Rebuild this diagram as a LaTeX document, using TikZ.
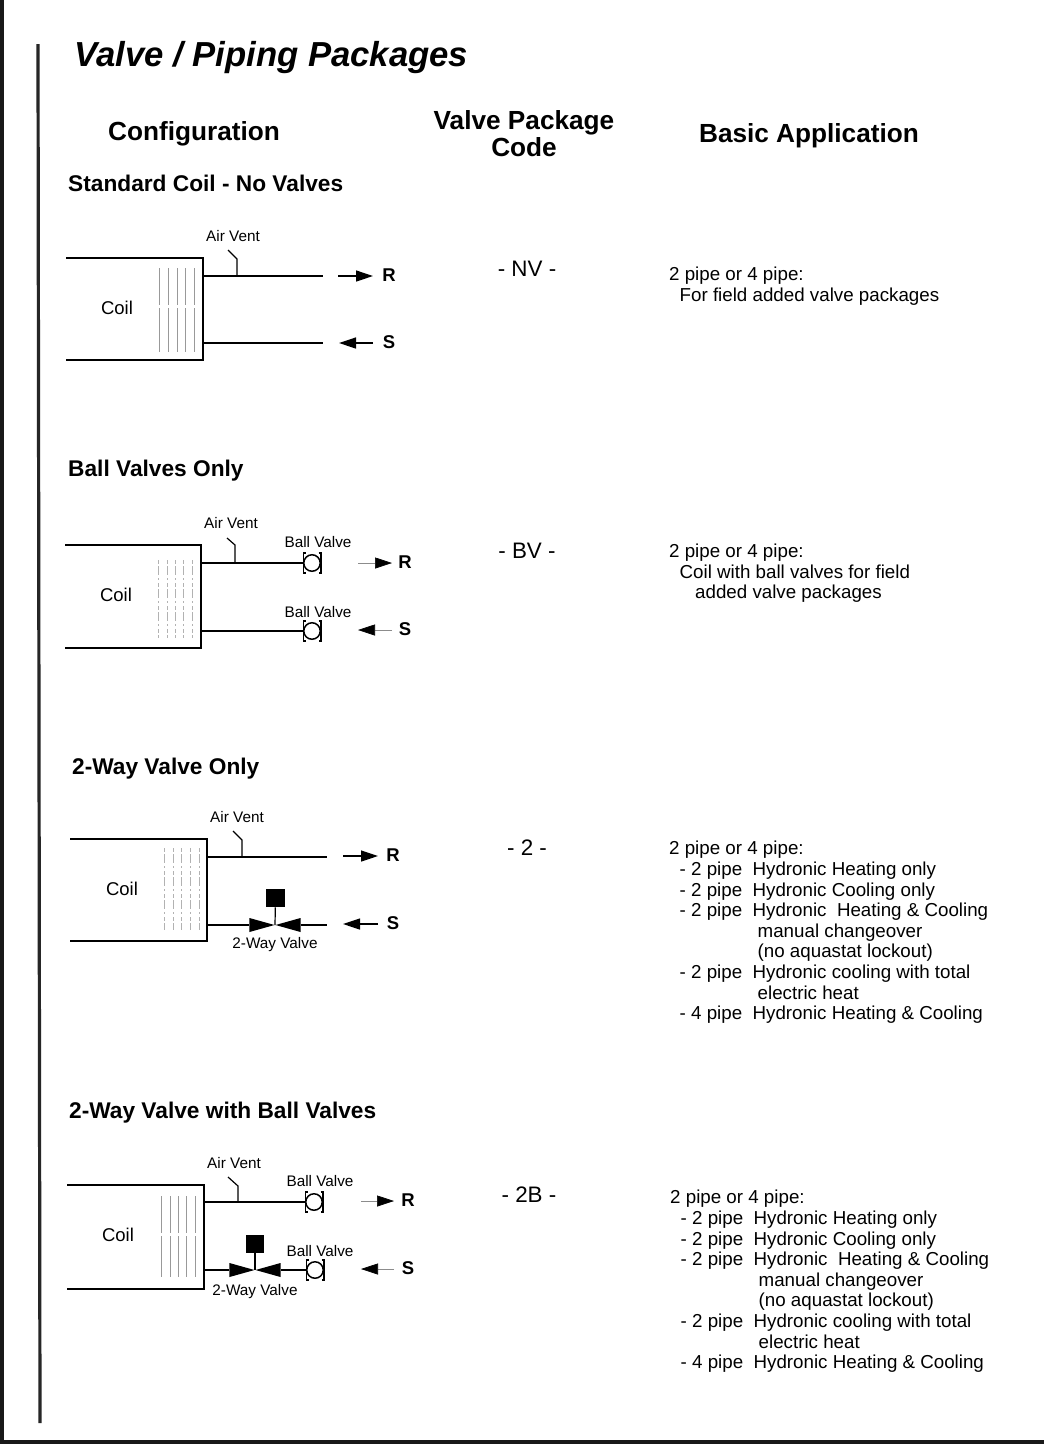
\documentclass[tikz,border=0pt]{standalone}
\usepackage{fontspec}
\setmainfont{Liberation Sans}
\usetikzlibrary{
  arrows.meta,
  shapes.geometric
}
\tikzset{
  titletxt/.style={anchor=west, inner sep=0pt, font=\fontsize{34.7}{40}\selectfont\bfseries\itshape},
  headtxt/.style={align=center, inner sep=0pt, font=\fontsize{26.2}{27}\selectfont\bfseries},
  secttxt/.style={anchor=west, inner sep=0pt, font=\fontsize{22.7}{26}\selectfont\bfseries},
  codetxt/.style={inner sep=0pt, font=\fontsize{22.4}{24}\selectfont},
  apptxt/.style={anchor=north west, align=left, inner sep=0pt, font=\fontsize{18.75}{20.6}\selectfont},
  coiltxt/.style={inner sep=0pt, font=\fontsize{18.5}{20}\selectfont},
  smalltxt/.style={inner sep=0pt, font=\fontsize{15.3}{16}\selectfont},
  endtxt/.style={inner sep=0pt, font=\fontsize{18.5}{20}\selectfont\bfseries},
  coilbody/.style={line width=1.6pt},
  pipe/.style={line width=1.7pt},
  vent/.style={line width=1.2pt},
  flowarr/.style={line width=1.3pt, -{Triangle[length=17pt, width=11pt, black]}},
  fadearr/.style={flowarr, line width=0.6pt, draw=black!45},
  hatch/.style={draw=black!40, line width=0.7pt, dash pattern=on 37pt off 3pt on 44pt off 2pt},
  hatchdot/.style={draw=black!30, line width=0.7pt, dash pattern=on 4pt off 2pt on 9pt off 3pt on 2pt off 3pt},
  ballv/.style={draw, circle, line width=1.5pt, minimum size=16.5pt, inner sep=0pt},
  flange/.style={line width=1.6pt},
  valvetri/.style={isosceles triangle, isosceles triangle stretches, fill=black,
    minimum height=25pt, minimum width=14pt, inner sep=0pt},
  actuator/.style={fill=black, minimum size=18.5pt, inner sep=0pt},
}
\newcommand{\ballvalve}[2]{
  \node[ballv] (#1) at (#2) {};
  \draw[flange] ([shift={(-6.5,-10)}]#1.center) -- ++(-2.2,0) -- ++(0,20) -- ++(2.2,0);
  \draw[flange] ([shift={(6.5,-10)}]#1.center) -- ++(2.2,0) -- ++(0,20) -- ++(-2.2,0);
}
\begin{document}
\begin{tikzpicture}[x=1pt, y=-1pt]
  \useasboundingbox (0,0) rectangle (1044,1444);
  \fill[white] (0,0) rectangle (1044,1444);

  % Page edges
  \fill[black!90] (0,0) rectangle (4,1444);
  \fill[black!90] (0,1440) rectangle (1044,1444);
  \draw[black!85, line width=3.2pt] (38,44) -- (40,1423);

  % Headings
  \node[titletxt] (title) at (74,58) {Valve / Piping Packages};
  \node[headtxt] (hconfig) at (194,134) {Configuration};
  \node[headtxt] (hcode) at (524,134) {Valve Package\\Code};
  \node[headtxt] (happ) at (809,136) {Basic Application};

  % Standard coil
  \node[secttxt] (sect1) at (68,183) {Standard Coil - No Valves};
  \node[coiltxt] (coil1) at (117,308) {Coil};
  \draw[coilbody] (66,258) coordinate (c1a) -- (203,258) -- (203,360) -- (66,360) coordinate (c1b);
  \foreach \xx in {159,168,177,185,194}
    \draw[hatch] (\xx,268) -- (\xx,352);
  \coordinate (r1in) at (203,276);
  \coordinate (r1out) at (323,276);
  \coordinate (s1in) at (203,343);
  \coordinate (s1out) at (323,343);
  \draw[pipe] (r1in) -- (r1out);
  \draw[pipe] (s1in) -- (s1out);
  \coordinate (v1) at (237,276);
  \draw[vent] (v1) -- (237,259) -- (228,250);
  \node[smalltxt] (av1) at (233,236) {Air Vent};
  \node[endtxt] (r1) at (389,275) {R};
  \node[endtxt] (s1) at (389,342) {S};
  \draw[flowarr] (338,276) -- (373,276);
  \draw[flowarr] (373,343) -- (339,343);
  \node[codetxt] (code1) at (527,269) {- NV -};
  \node[apptxt] (app1) at (669,267) {2 pipe or 4 pipe:\\
    \hspace*{10.5pt}For field added valve packages};

  % Ball valves
  \node[secttxt] (sect2) at (68,471) {Ball Valves Only};
  \node[coiltxt] (coil2) at (116,595) {Coil};
  \draw[coilbody] (65,545) coordinate (c2a) -- (201,545) -- (201,648) -- (65,648) coordinate (c2b);
  \foreach \xx in {158,167,175,183,192}
    \draw[hatchdot] (\xx,560) -- (\xx,638);
  \ballvalve{bv2a}{312,563}
  \ballvalve{bv2b}{312,631}
  \coordinate (r2in) at (201,563);
  \coordinate (s2in) at (201,631);
  \draw[pipe] (r2in) -- (bv2a);
  \draw[pipe] (s2in) -- (bv2b);
  \coordinate (v2) at (235,563);
  \draw[vent] (v2) -- (235,545) -- (227,538);
  \node[smalltxt] (av2) at (231,523) {Air Vent};
  \node[smalltxt] (bl2a) at (318,542) {Ball Valve};
  \node[smalltxt] (bl2b) at (318,612) {Ball Valve};
  \node[endtxt] (r2) at (405,562) {R};
  \node[endtxt] (s2) at (405,629) {S};
  \draw[fadearr] (358,563) -- (392,563);
  \draw[fadearr] (392,630) -- (358,630);
  \node[codetxt] (code2) at (527,551) {- BV -};
  \node[apptxt] (app2) at (669,544) {2 pipe or 4 pipe:\\
    \hspace*{10.5pt}Coil with ball valves for field\\
    \hspace*{26pt}added valve packages};

  % 2-way valve
  \node[secttxt] (sect3) at (72,769) {2-Way Valve Only};
  \node[coiltxt] (coil3) at (122,889) {Coil};
  \draw[coilbody] (70,839) coordinate (c3a) -- (207,839) -- (207,941) -- (70,941) coordinate (c3b);
  \foreach \xx in {164,173,181,190,199}
    \draw[hatchdot] (\xx,848) -- (\xx,930);
  \coordinate (r3in) at (207,857);
  \coordinate (r3out) at (327,857);
  \coordinate (s3in) at (207,925);
  \coordinate (s3out) at (327,925);
  \node[valvetri, anchor=apex] (tw3a) at (275,925) {};
  \node[valvetri, anchor=apex, shape border rotate=180] (tw3b) at (275,925) {};
  \node[actuator] (act3) at (275.5,898) {};
  \draw[pipe] (r3in) -- (r3out);
  \draw[pipe] (s3in) -- (tw3a.west);
  \draw[pipe] (tw3b.east) -- (s3out);
  \draw[vent] (act3) -- (275,925);
  \coordinate (v3) at (242,857);
  \draw[vent] (v3) -- (242,840) -- (233,831);
  \node[smalltxt] (av3) at (237,817) {Air Vent};
  \node[smalltxt] (tl3) at (275,945) {2-Way Valve};
  \node[endtxt] (r3) at (393,855) {R};
  \node[endtxt] (s3) at (393,923) {S};
  \draw[flowarr] (343,856) -- (378,856);
  \draw[flowarr] (378,924) -- (343,924);
  \node[codetxt] (code3) at (527,848) {- 2 -};
  \node[apptxt] (app3) at (669,841) {2 pipe or 4 pipe:\\
    \hspace*{10.5pt}- 2 pipe\ \ Hydronic Heating only\\
    \hspace*{10.5pt}- 2 pipe\ \ Hydronic Cooling only\\
    \hspace*{10.5pt}- 2 pipe\ \ Hydronic\ \ Heating \& Cooling\\
    \hspace*{88.5pt}manual changeover\\
    \hspace*{88.5pt}(no aquastat lockout)\\
    \hspace*{10.5pt}- 2 pipe\ \ Hydronic cooling with total\\
    \hspace*{88.5pt}electric heat\\
    \hspace*{10.5pt}- 4 pipe\ \ Hydronic Heating \& Cooling};

  % 2-way valve with ball valves
  \node[secttxt] (sect4) at (69,1113) {2-Way Valve with Ball Valves};
  \node[coiltxt] (coil4) at (118,1235) {Coil};
  \draw[coilbody] (67,1185) coordinate (c4a) -- (204,1185) -- (204,1289) -- (67,1289) coordinate (c4b);
  \foreach \xx in {161,170,178,186,195}
    \draw[hatch] (\xx,1196) -- (\xx,1277);
  \ballvalve{bv4a}{314,1202}
  \ballvalve{bv4b}{315,1270}
  \coordinate (r4in) at (204,1202);
  \coordinate (s4in) at (204,1270);
  \node[valvetri, anchor=apex] (tw4a) at (255,1270) {};
  \node[valvetri, anchor=apex, shape border rotate=180] (tw4b) at (255,1270) {};
  \node[actuator] (act4) at (255,1244) {};
  \draw[pipe] (r4in) -- (bv4a);
  \draw[pipe] (s4in) -- (tw4a.west);
  \draw[pipe] (tw4b.east) -- (bv4b);
  \draw[vent] (act4) -- (255,1270);
  \coordinate (v4) at (238,1202);
  \draw[vent] (v4) -- (238,1186) -- (228,1177);
  \node[smalltxt] (av4) at (234,1163) {Air Vent};
  \node[smalltxt] (bl4a) at (320,1181) {Ball Valve};
  \node[smalltxt] (bl4b) at (320,1251) {Ball Valve};
  \node[smalltxt] (tl4) at (255,1292) {2-Way Valve};
  \node[endtxt] (r4) at (408,1200) {R};
  \node[endtxt] (s4) at (408,1268) {S};
  \draw[fadearr] (361,1201) -- (394,1201);
  \draw[fadearr] (394,1269) -- (361,1269);
  \node[codetxt] (code4) at (529,1195) {- 2B -};
  \node[apptxt] (app4) at (670,1190) {2 pipe or 4 pipe:\\
    \hspace*{10.5pt}- 2 pipe\ \ Hydronic Heating only\\
    \hspace*{10.5pt}- 2 pipe\ \ Hydronic Cooling only\\
    \hspace*{10.5pt}- 2 pipe\ \ Hydronic\ \ Heating \& Cooling\\
    \hspace*{88.5pt}manual changeover\\
    \hspace*{88.5pt}(no aquastat lockout)\\
    \hspace*{10.5pt}- 2 pipe\ \ Hydronic cooling with total\\
    \hspace*{88.5pt}electric heat\\
    \hspace*{10.5pt}- 4 pipe\ \ Hydronic Heating \& Cooling};
\end{tikzpicture}
\end{document}
